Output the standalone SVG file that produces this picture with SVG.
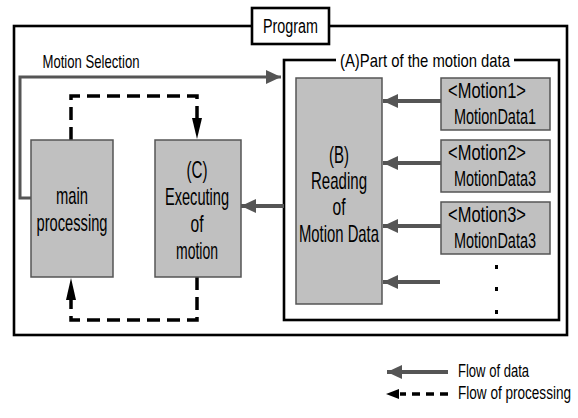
<svg xmlns="http://www.w3.org/2000/svg" width="578" height="418" viewBox="0 0 578 418">
<style>
text{font-family:"Liberation Sans",Arial,sans-serif;fill:#000;text-anchor:middle}
.t24{font-size:24px}
.t23{font-size:22.5px}
.t20{font-size:20px}
.t19{font-size:19px}
.t17{font-size:17.5px;text-anchor:start}
.node{fill:#c0c0c0;stroke:#555;stroke-width:1.5}
.frame{fill:none;stroke:#000;stroke-width:2.6}
.data{fill:none;stroke:#555;stroke-width:4}
.sel{fill:none;stroke:#555;stroke-width:3}
.proc{fill:none;stroke:#000;stroke-width:3.5;stroke-dasharray:13 7}
</style>
<defs>
<marker id="ga" markerUnits="userSpaceOnUse" markerWidth="16" markerHeight="16" refX="15" refY="7" orient="auto"><path d="M0,0L15,7L0,14z" fill="#555"/></marker>
</defs>
<rect width="578" height="418" fill="#fff"/>
<g id="program">
<rect class="frame" x="14" y="26" width="553" height="309"/>
<rect x="252" y="8" width="77" height="36" fill="#fff" stroke="#000" stroke-width="2.6"/>
<text class="t20" x="290.5" y="33" textLength="55" lengthAdjust="spacingAndGlyphs">Program</text>
</g>
<g id="partA">
<rect class="frame" x="284" y="60" width="275" height="260"/>
<rect x="336" y="52" width="178" height="16" fill="#fff"/>
<text class="t19" x="425" y="67" textLength="170" lengthAdjust="spacingAndGlyphs">(A)Part of the motion data</text>
</g>
<g id="connectors">
<polyline class="sel" points="31,198 20,198 20,77 281,77" marker-end="url(#ga)"/>
<line class="data" x1="284" y1="206" x2="241" y2="206" marker-end="url(#ga)"/>
<line class="data" x1="441" y1="101" x2="383" y2="101" marker-end="url(#ga)"/>
<line class="data" x1="441" y1="163" x2="383" y2="163" marker-end="url(#ga)"/>
<line class="data" x1="441" y1="226" x2="383" y2="226" marker-end="url(#ga)"/>
<line class="data" x1="440" y1="282" x2="383" y2="282" marker-end="url(#ga)"/>
<polyline class="proc" points="71,140 71,96 197,96 197,119"/>
<path d="M192,118L202,118L197,139z" fill="#000"/>
<polyline class="proc" points="197,277 197,320 71,320 71,300"/>
<path d="M66,300L76,300L71,278z" fill="#000"/>
</g>
<text class="t19" x="91" y="68" textLength="97" lengthAdjust="spacingAndGlyphs">Motion Selection</text>
<g id="main">
<rect class="node" x="31" y="140" width="82" height="137"/>
<text class="t24" x="72" y="204" textLength="32" lengthAdjust="spacingAndGlyphs">main</text>
<text class="t24" x="72" y="231" textLength="71" lengthAdjust="spacingAndGlyphs">processing</text>
</g>
<g id="exec">
<rect class="node" x="155" y="140" width="86" height="137"/>
<text class="t24" x="197" y="178" textLength="21" lengthAdjust="spacingAndGlyphs">(C)</text>
<text class="t24" x="197" y="205" textLength="64" lengthAdjust="spacingAndGlyphs">Executing</text>
<text class="t24" x="197" y="232" textLength="13" lengthAdjust="spacingAndGlyphs">of</text>
<text class="t24" x="197" y="259" textLength="42" lengthAdjust="spacingAndGlyphs">motion</text>
</g>
<g id="reading">
<rect class="node" x="296" y="78" width="86" height="226"/>
<text class="t24" x="339" y="163" textLength="20" lengthAdjust="spacingAndGlyphs">(B)</text>
<text class="t24" x="339" y="189" textLength="56" lengthAdjust="spacingAndGlyphs">Reading</text>
<text class="t24" x="339" y="215" textLength="13" lengthAdjust="spacingAndGlyphs">of</text>
<text class="t24" x="339" y="242" textLength="80" lengthAdjust="spacingAndGlyphs">Motion Data</text>
</g>
<g id="motion1">
<rect class="node" x="441" y="78" width="109" height="52"/>
<text class="t23" x="487" y="98" textLength="78" lengthAdjust="spacingAndGlyphs">&lt;Motion1&gt;</text>
<text class="t23" x="495" y="124" textLength="82" lengthAdjust="spacingAndGlyphs">MotionData1</text>
</g>
<g id="motion2">
<rect class="node" x="441" y="140" width="109" height="52"/>
<text class="t23" x="487" y="160" textLength="78" lengthAdjust="spacingAndGlyphs">&lt;Motion2&gt;</text>
<text class="t23" x="495" y="186" textLength="82" lengthAdjust="spacingAndGlyphs">MotionData3</text>
</g>
<g id="motion3">
<rect class="node" x="441" y="202" width="109" height="52"/>
<text class="t23" x="487" y="222" textLength="78" lengthAdjust="spacingAndGlyphs">&lt;Motion3&gt;</text>
<text class="t23" x="495" y="248" textLength="82" lengthAdjust="spacingAndGlyphs">MotionData3</text>
</g>
<g id="dots" fill="#000">
<rect x="495" y="265" width="3" height="4"/>
<rect x="495" y="287" width="3" height="4"/>
<rect x="495" y="310" width="3" height="4"/>
</g>
<g id="legend">
<line class="data" x1="448" y1="372" x2="387" y2="372" stroke-width="3" marker-end="url(#ga)"/>
<text class="t17" x="458" y="377" textLength="71" lengthAdjust="spacingAndGlyphs">Flow of data</text>
<line x1="448" y1="394" x2="400" y2="394" stroke="#000" stroke-width="3.5" stroke-dasharray="8 6"/>
<path d="M386,394L399,389L399,399z" fill="#000"/>
<text class="t17" x="458" y="399" textLength="113" lengthAdjust="spacingAndGlyphs">Flow of processing</text>
</g>
</svg>
